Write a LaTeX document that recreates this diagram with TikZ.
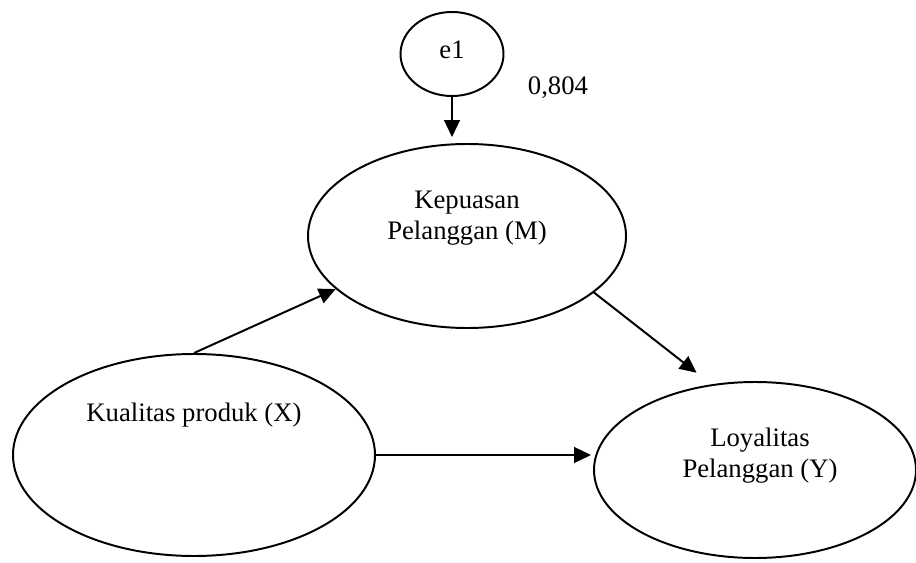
\documentclass[tikz,border=0pt]{standalone}
\usepackage{fontspec}
\setmainfont{Liberation Serif}
\usetikzlibrary{arrows.meta, shapes.geometric}

\begin{document}
\begin{tikzpicture}[
    latent/.style={ellipse, draw, line width=1.4pt, inner sep=0pt},
    caption/.style={font=\fontsize{19}{22}\selectfont, align=center, inner sep=0pt},
    link/.style={line width=1.4pt, -{Triangle[length=0.42cm, width=0.39cm]}}
  ]
  \useasboundingbox (0,0) rectangle (22.9,14.05);

  % variables
  \node[latent, minimum width=2.575cm, minimum height=2.1cm] (e1)  at (11.3, 12.7)   {};
  \node[latent, minimum width=7.95cm,  minimum height=4.6cm] (kep) at (11.675, 8.15) {};
  \node[latent, minimum width=9.05cm,  minimum height=5.05cm] (kua) at (4.85, 2.675) {};
  \node[latent, minimum width=8.05cm,  minimum height=4.4cm] (loy) at (18.875, 2.3)  {};

  \node[caption] (e1txt)  at (11.3, 12.8)  {e1};
  \node[caption] (keptxt) at (11.675, 8.6) {Kepuasan\\Pelanggan (M)};
  \node[caption] (kuatxt) at (4.85, 3.675) {Kualitas produk (X)};
  \node[caption] (loytxt) at (19.0, 2.65)  {Loyalitas\\Pelanggan (Y)};
  \node[caption] (coef)   at (13.95, 11.85) {0,804};

  % paths
  \draw[link, shorten >=0.15cm] (e1.south) -- (e1.south |- kep.north);
  \draw[link] (kua.north) -- (kep.202);
  \draw[link, shorten >=0.47cm] (kep.336) -- (loy.117);
  \draw[link, shorten >=0.05cm] (kua.east) -- (kua.east -| loy.west);
\end{tikzpicture}
\end{document}
